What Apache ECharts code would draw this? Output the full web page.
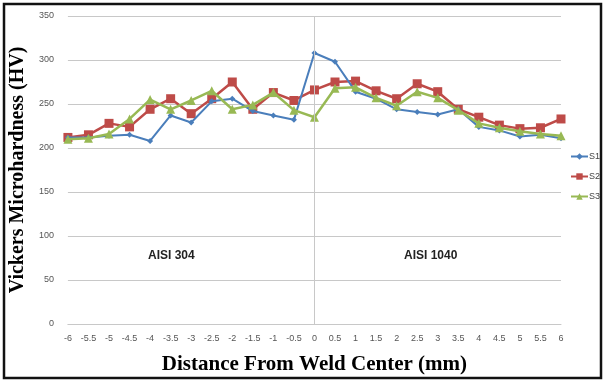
<!DOCTYPE html>
<html>
<head>
<meta charset="utf-8">
<script src="https://cdn.jsdelivr.net/npm/echarts@6/dist/echarts.min.js"></script>
<style>
  html, body { margin: 0; padding: 0; background: #fff; }
  #chart { width: 605px; height: 382px; }
</style>
</head>
<body>
<div id="chart"></div>
<script>
// distance from weld center (mm)
var distances = [-6, -5.5, -5, -4.5, -4, -3.5, -3, -2.5, -2, -1.5, -1, -0.5, 0,
                 0.5, 1, 1.5, 2, 2.5, 3, 3.5, 4, 4.5, 5, 5.5, 6];
// hardness readings (HV)
var s1 = [212, 212, 214, 215, 208, 237, 229, 253, 256, 242, 237, 232, 308,
          298, 264, 256, 244, 241, 238, 244, 224, 220, 213, 215, 211];
var s2 = [212, 215, 228, 224, 244, 256, 239, 256, 275, 244, 263, 254, 266,
          275, 276, 265, 256, 273, 264, 244, 235, 226, 222, 223, 233];
var s3 = [210, 211, 216, 233, 255, 244, 254, 265, 244, 249, 263, 243, 235,
          268, 269, 257, 248, 264, 257, 243, 228, 223, 219, 216, 214];
var seriesNames = ['S1', 'S2', 'S3'];
var regionLabels = ['AISI 304', 'AISI 1040'];

function pairs(vals) {
    return distances.map(function (d, i) { return [d, vals[i]]; });
}

var myChart = echarts.init(document.getElementById('chart'));
myChart.setOption({
    animation: false,
    backgroundColor: '#fff',
    grid: { left: 67, right: 44, top: 16, bottom: 58 },
    legend: {
        orient: 'vertical',
        left: 565,
        top: 147,
        itemGap: 11,
        itemWidth: 17,
        itemHeight: 8,
        textStyle: { fontFamily: 'Liberation Sans Narrow, Liberation Sans', fontSize: 9, color: '#444', padding: [0, 0, 0, -4] },
        data: seriesNames
    },
    xAxis: {
        type: 'value',
        min: -6,
        max: 6,
        interval: 0.5,
        name: 'Distance From Weld Center (mm)',
        nameLocation: 'middle',
        nameGap: 30,
        nameTextStyle: { fontFamily: 'Liberation Serif', fontWeight: 'bold', fontSize: 21, color: '#000' },
        axisLine: { onZero: false, lineStyle: { color: '#c8c8c8' } },
        axisTick: { show: false },
        axisLabel: { fontFamily: 'Liberation Sans Narrow, Liberation Sans', fontSize: 9, color: '#555', margin: 10 },
        splitLine: { show: false }
    },
    yAxis: {
        type: 'value',
        min: 0,
        max: 350,
        interval: 50,
        name: 'Vickers Microhardness (HV)',
        nameLocation: 'middle',
        nameGap: 38,
        nameTextStyle: { fontFamily: 'Liberation Serif', fontWeight: 'bold', fontSize: 20, color: '#000' },
        axisLine: { show: false },
        axisTick: { show: false },
        axisLabel: { fontFamily: 'Liberation Sans Narrow, Liberation Sans', fontSize: 9, color: '#555', margin: 14 },
        splitLine: { lineStyle: { color: '#c8c8c8', width: 1 } }
    },
    series: [{
        name: 'S1',
        type: 'line',
        data: pairs(s1),
        symbol: 'diamond',
        symbolSize: 6,
        lineStyle: { color: '#4a7ebb', width: 2 },
        itemStyle: { color: '#4a7ebb' },
        markLine: {
            silent: true,
            symbol: 'none',
            label: { show: false },
            lineStyle: { color: '#c8c8c8', type: 'solid', width: 1 },
            data: [{ xAxis: 0 }]
        },
        z: 3
    }, {
        name: 'S2',
        type: 'line',
        data: pairs(s2),
        symbol: 'rect',
        symbolSize: 9,
        lineStyle: { color: '#be4b48', width: 2.5 },
        itemStyle: { color: '#be4b48' },
        z: 2
    }, {
        name: 'S3',
        type: 'line',
        data: pairs(s3),
        symbol: 'triangle',
        symbolSize: 9,
        lineStyle: { color: '#98b954', width: 2.5 },
        itemStyle: { color: '#98b954' },
        z: 4
    }],
    graphic: [{
        type: 'rect',
        shape: { x: 4, y: 4, width: 597, height: 374 },
        style: { fill: 'none', stroke: '#111', lineWidth: 2.5 },
        silent: true
    }, {
        type: 'text',
        left: 148,
        top: 250,
        style: { text: regionLabels[0], fontFamily: 'Liberation Sans Narrow, Liberation Sans', fontWeight: 'bold', fontSize: 12, fill: '#222' }
    }, {
        type: 'text',
        left: 404,
        top: 250,
        style: { text: regionLabels[1], fontFamily: 'Liberation Sans Narrow, Liberation Sans', fontWeight: 'bold', fontSize: 12, fill: '#222' }
    }]
});
</script>
</body>
</html>
